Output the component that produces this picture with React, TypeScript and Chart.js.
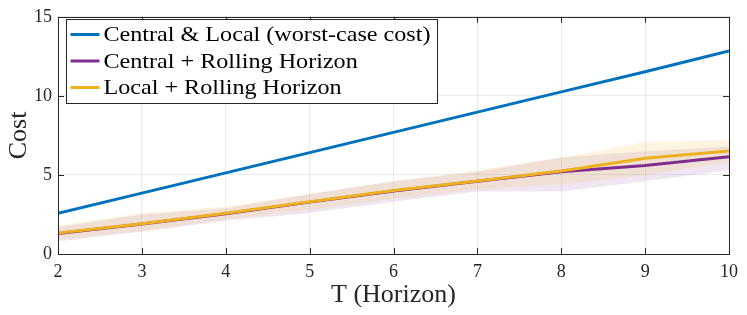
import React, { useEffect, useRef } from "react";
import { Chart, registerables } from "chart.js";
Chart.register(...registerables);

const horizons = [2, 3, 4, 5, 6, 7, 8, 9, 10];
const worstCase = [2.57, 3.85, 5.13, 6.41, 7.69, 8.97, 10.25, 11.53, 12.84];
const centralRH = [1.3, 1.9, 2.55, 3.28, 3.98, 4.6, 5.2, 5.6, 6.15];
const centralRHLow = [0.8, 1.4, 2.1, 2.6, 3.3, 3.95, 3.95, 4.6, 5.3];
const centralRHHigh = [1.7, 2.5, 2.9, 3.8, 4.6, 5.2, 6.1, 6.5, 6.8];
const localRH = [1.32, 1.92, 2.57, 3.3, 4.02, 4.62, 5.25, 6.05, 6.52];
const localRHLow = [0.95, 1.45, 2.2, 2.8, 3.5, 4.1, 4.4, 5.0, 5.8];
const localRHHigh = [1.8, 2.6, 3.0, 3.8, 4.6, 5.3, 6.1, 7.08, 7.2];
const yTicks = [0, 5, 10, 15];
const labels = [
  "Central & Local (worst-case cost)",
  "Central + Rolling Horizon",
  "Local + Rolling Horizon",
];

const BLUE = "#0072BD";
const PURPLE = "#7E2F8E";
const YELLOW = "#EDB120";
const FONT = "'Liberation Serif', 'DejaVu Serif', serif";

const pts = (ys: number[]) => horizons.map((x, i) => ({ x, y: ys[i] }));

export default function App() {
  const ref = useRef<HTMLCanvasElement>(null);
  useEffect(() => {
    document.body.style.margin = "0";
    const boxPlugin = {
      id: "box",
      afterDatasetsDraw(chart: any) {
        const { ctx, chartArea: a, scales } = chart;
        ctx.save();
        ctx.strokeStyle = "#262626";
        ctx.lineWidth = 1;
        horizons.forEach((v) => {
          const px = Math.round(scales.x.getPixelForValue(v)) + 0.5;
          ctx.beginPath();
          ctx.moveTo(px, a.bottom);
          ctx.lineTo(px, a.bottom - 6);
          ctx.moveTo(px, a.top);
          ctx.lineTo(px, a.top + 6);
          ctx.stroke();
        });
        yTicks.forEach((v) => {
          const py = Math.round(scales.y.getPixelForValue(v)) + 0.5;
          ctx.beginPath();
          ctx.moveTo(a.left, py);
          ctx.lineTo(a.left + 6, py);
          ctx.moveTo(a.right, py);
          ctx.lineTo(a.right - 6, py);
          ctx.stroke();
        });
        ctx.strokeRect(Math.round(a.left) + 0.5, Math.round(a.top) + 0.5, Math.round(a.right - a.left), Math.round(a.bottom - a.top));
        // legend
        const lx = 66.5, ly = 19.5, lw = 371, lh = 84;
        ctx.fillStyle = "#ffffff";
        ctx.fillRect(lx, ly, lw, lh);
        ctx.strokeStyle = "#262626";
        ctx.strokeRect(lx, ly, lw, lh);
        const cols = [BLUE, PURPLE, YELLOW];
        ctx.font = `21px ${FONT}`;
        ctx.textBaseline = "middle";
        const w0 = ctx.measureText(labels[0]).width;
        const sx = 327 / w0;
        labels.forEach((t, i) => {
          const y = ly + 15 + i * 26.5;
          ctx.strokeStyle = cols[i];
          ctx.lineWidth = 3;
          ctx.beginPath();
          ctx.moveTo(lx + 4, y);
          ctx.lineTo(lx + 33, y);
          ctx.stroke();
          ctx.save();
          ctx.translate(lx + 37, y + 1);
          ctx.scale(sx, 1);
          ctx.fillStyle = "#000";
          ctx.fillText(t, 0, 0);
          ctx.restore();
        });
        ctx.restore();
      },
    };
    const chart = new Chart(ref.current!, {
      type: "line",
      data: {
        datasets: [
          { label: "cu", order: 10, data: pts(centralRHHigh), borderWidth: 0, pointRadius: 0, backgroundColor: "rgba(126,47,142,0.12)", fill: "+1" },
          { label: "cl", order: 10, data: pts(centralRHLow), borderWidth: 0, pointRadius: 0, fill: false },
          { label: "lu", order: 9, data: pts(localRHHigh), borderWidth: 0, pointRadius: 0, backgroundColor: "rgba(237,177,32,0.13)", fill: "+1" },
          { label: "ll", order: 9, data: pts(localRHLow), borderWidth: 0, pointRadius: 0, fill: false },
          { label: labels[0], order: 3, data: pts(worstCase), borderColor: BLUE, borderWidth: 3, pointRadius: 0, fill: false },
          { label: labels[1], order: 2, data: pts(centralRH), borderColor: PURPLE, borderWidth: 3, pointRadius: 0, fill: false },
          { label: labels[2], order: 1, data: pts(localRH), borderColor: YELLOW, borderWidth: 3, pointRadius: 0, fill: false },
        ],
      },
      options: {
        animation: false,
        responsive: false,
        maintainAspectRatio: false,
        layout: { padding: { top: 11, right: 18, left: 0, bottom: 0 } },
        plugins: { legend: { display: false }, tooltip: { enabled: false } },
        scales: {
          x: {
            type: "linear",
            min: 2,
            max: 10,
            afterFit: (s: any) => { s.height = 61; },
            afterBuildTicks: (s: any) => { s.ticks = horizons.map((v) => ({ value: v })); },
            grid: { color: "rgba(0,0,0,0.08)", tickLength: 0, drawTicks: false },
            border: { display: false },
            ticks: { color: "#262626", font: { family: FONT, size: 18 }, padding: 7, maxRotation: 0 },
            title: { display: true, text: "T (Horizon)", color: "#262626", font: { family: FONT, size: 26 }, padding: { top: 0 } },
          },
          y: {
            type: "linear",
            min: 0,
            max: 15,
            afterFit: (s: any) => { s.width = 58; },
            afterBuildTicks: (s: any) => { s.ticks = yTicks.map((v) => ({ value: v })); },
            grid: { color: "rgba(0,0,0,0.08)", tickLength: 0, drawTicks: false },
            border: { display: false },
            ticks: { color: "#262626", font: { family: FONT, size: 18 }, padding: 6 },
            title: { display: true, text: "Cost", color: "#262626", font: { family: FONT, size: 26 }, padding: { bottom: 2 } },
          },
        },
      },
      plugins: [boxPlugin],
    } as any);
    return () => chart.destroy();
  }, []);
  return (
    <div style={{ width: 747, height: 315 }}>
      <canvas ref={ref} width={747} height={315} style={{ display: "block" }} />
    </div>
  );
}
